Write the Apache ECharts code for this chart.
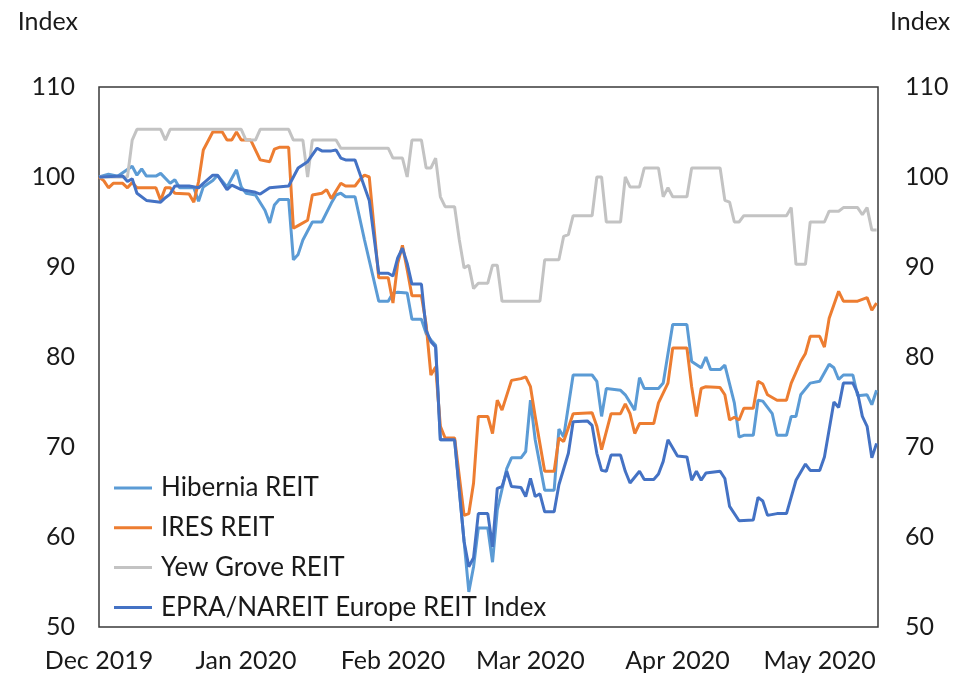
<!DOCTYPE html>
<html>
<head>
<meta charset="utf-8">
<script src="https://cdn.jsdelivr.net/npm/echarts@6/dist/echarts.min.js"></script>
<style>
html, body { margin: 0; padding: 0; background: #ffffff; }
#chart { width: 963px; height: 674px; }
</style>
</head>
<body>
<div id="chart"></div>
<script>
// ---- data (days counted from 1 Dec 2019) ----
const seriesNames = ['Hibernia REIT', 'IRES REIT', 'Yew Grove REIT', 'EPRA/NAREIT Europe REIT Index'];
const monthNames = ['Jan','Feb','Mar','Apr','May','Jun','Jul','Aug','Sep','Oct','Nov','Dec'];
const yTicks = [50, 60, 70, 80, 90, 100, 110];

const hiberniaDays = [0,2,4,7,8,9,10,12,13,15, 16,17,20,21,22,24,25,27,29,30, 31,33,35,36,37,38,40,41,42,43, 45,47,49,50,51,52,54,56,59,61, 62,63,65,66,68,69,70,71,72,75, 78,79,80,82,83,84,86,87,89,90, 91,92,94,96,97,98,100,104,105,106, 107,110,111,113,114,115,118,119,121,124, 125,127,128,129,131,132,134,135,136,138, 139,140,142,143,145,146,147,148,150,152, 154,155,156,157,159,160,162,163,164];
const hiberniaValues = [100,100.3,100.1,101.2,100.2,100.9,100.1,100.1,100.4,99.3, 99.7,98.8,98.8,97.3,98.9,99.6,100.2,98.9,100.8,98.9, 98.2,98,96.3,94.9,96.9,97.5,97.5,90.8,91.4,93, 95,95,97.1,98,98.2,97.8,97.8,93,86.2,86.2, 87.1,87.2,87.1,84.2,84.2,82.6,81.9,81.3,70.8,70.8, 53.9,56.7,61,61,57.2,63,67.6,68.8,68.8,69.5, 75.2,70.8,65.2,65.2,72,71.1,78,78,77.3,73.4, 76.5,76.3,75.8,74.1,77.7,76.5,76.5,77.1,83.6,83.6, 79.5,78.8,80,78.6,78.6,79.1,74.9,71.1,71.3,71.3, 75.2,75.1,73.7,71.3,71.3,73.4,73.4,75.8,77.1,77.3, 79.2,78.8,77.5,78,78,75.7,75.8,74.7,76.3];

const iresDays = [0,1,2,3,5,6,7,8,12,13, 14,15,16,19,20,21,22,24,26,27, 28,29,30,32,34,36,37,38,40,41, 42,44,45,47,48,49,51,52,54,55, 56,57,59,61,62,63,64,65,66,68, 69,70,71,72,73,75,77,78,79,80, 82,83,84,85,87,89,90,91,92,94, 96,97,98,100,104,105,106,108,110,111, 112,113,114,117,118,120,121,124,125,126, 127,128,131,132,133,134,135,136,138,139, 140,141,143,145,146,148,149,150,152,153, 154,156,157,160,162,163,164];
const iresValues = [100,99.6,98.8,99.3,99.3,98.8,99.4,98.8,98.8,97.4, 98.8,98.8,98.2,98.1,97.2,99.5,103,105,105,104.1, 104.1,105,104.1,104.1,101.9,101.7,103.1,103.3,103.3,94.3, 94.6,95.2,98,98.2,98.6,97.6,99.3,99,99,99.7, 100.2,100,88.8,88.8,86,90.4,92.4,89.7,86.8,86.8, 83.6,78,78.9,72.3,71,71,62.4,62.6,66,73.4, 73.4,71.5,75.2,74.1,77.4,77.6,77.8,76.7,73.4,67.3, 67.3,71,70.6,73.7,73.8,72.3,69.7,73.7,73.7,74.8, 73.7,71.5,72.6,72.6,74.9,77.1,81,81,76.7,73.4, 76.5,76.7,76.6,75.8,73,73.3,73,74.3,74.3,77.3, 77,75.8,75.2,75.2,77.1,79.5,80.4,82.3,82.3,81.1, 84.3,87.3,86.2,86.2,86.6,85.2,86];

const yewGroveDays = [0,6,7,8,13,14,15,30,31,33, 34,40,41,43,44,45,50,51,61,62, 64,65,66,68,69,70,71,72,73,75, 76,77,78,79,80,82,83,84,85,93, 94,97,98,99,100,104,105,106,107,110, 111,112,114,115,118,119,120,121,124,125, 131,132,133,134,135,136,145,146,147,149, 150,153,154,156,157,160,161,162,163,164];
const yewGroveValues = [100,100,104.1,105.3,105.3,104.1,105.3,105.3,104.1,104.1, 105.3,105.3,104.1,104.1,100,104.1,104.1,103.2,103.2,102.1, 102.1,100,104.1,104.1,101,101,102.1,97.8,96.7,96.7, 93,89.9,90.2,87.6,88.2,88.2,90.2,90.2,86.2,86.2, 90.8,90.8,93.4,93.6,95.7,95.7,100,100,95,95, 100,98.9,98.9,101,101,97.8,98.8,97.8,97.8,101, 101,97.4,97.2,95,95,95.7,95.7,96.6,90.3,90.3, 95,95,96.2,96.2,96.6,96.6,95.8,96.6,94.1,94.1];

const epraDays = [0,5,6,7,8,10,13,14,15,16, 19,21,22,24,25,27,28,30,31,33, 34,36,40,42,44,46,47,49,50,51, 52,54,56,57,59,61,62,63,64,65, 66,68,69,70,71,72,75,77,78,79, 80,82,83,84,85,86,87,89,90,91, 92,93,94,96,97,99,100,103,104,105, 106,107,108,110,111,112,114,115,117,118, 119,120,122,124,125,126,127,128,131,132, 133,135,138,139,140,141,143,145,147,149, 150,152,153,155,156,157,159,160,161,162, 163,164];
const epraValues = [100,100.1,99.5,99.8,98.2,97.4,97.2,97.7,98.1,99, 99,98.8,99.3,100.2,100.2,98.6,99.1,98.6,98.5,98.3, 98.1,98.8,99,101,101.7,103.2,102.9,102.9,103,102.1, 101.9,101.9,98.9,97.4,89.3,89.3,89,91,92.1,90.4, 88.1,88.1,83,81.7,81.1,70.8,70.8,59.5,56.7,57.7, 62.6,62.6,58.9,65.4,65.6,67.3,65.6,65.5,64.5,66.5, 64.5,64.8,62.8,62.8,65.8,69.3,72.8,72.9,72.4,69.3, 67.4,67.3,69.1,69.1,67.3,66,67.3,66.4,66.4,67, 68.4,70.8,69,68.9,66.3,67.3,66.3,67.1,67.3,66.5, 63.4,61.8,61.9,64.4,64,62.4,62.6,62.6,66.3,68.1, 67.4,67.4,68.9,75,74.4,77.1,77.1,76,73.4,72.3, 68.8,70.4];

// ---- styling ----
const colors = ['#5B9BD5', '#ED7D31', '#C3C3C3', '#4472C4'];
const FONT = "Lato, 'Open Sans', sans-serif";
const FS = 25;
const TEXT = '#1a1a1a';
const DAY = 86400000;
const START = new Date(2019, 11, 1).getTime();

function toPoints(days, vals) {
  return days.map(function (d, i) { return [START + d * DAY, vals[i]]; });
}

const allDays = [hiberniaDays, iresDays, yewGroveDays, epraDays];
const allValues = [hiberniaValues, iresValues, yewGroveValues, epraValues];

const chart = echarts.init(document.getElementById('chart'), null, { renderer: 'canvas' });

const yAxisBase = {
  type: 'value',
  min: yTicks[0],
  max: yTicks[yTicks.length - 1],
  interval: 10,
  splitLine: { show: false },
  axisLine: { show: false },
  axisTick: { show: false },
  name: 'Index',
  nameLocation: 'end',
  nameGap: 65
};

chart.setOption({
  animation: false,
  backgroundColor: '#ffffff',
  textStyle: { fontFamily: FONT },
  grid: {
    left: 99, right: 85, top: 87, bottom: 47,
    show: true, borderColor: '#3a3a3a', borderWidth: 1.5, backgroundColor: 'transparent'
  },
  legend: {
    orient: 'vertical',
    left: 109,
    top: 468,
    itemWidth: 38,
    itemHeight: 3,
    itemGap: 9.8,
    icon: 'rect',
    data: seriesNames,
    textStyle: { fontFamily: FONT, fontSize: 26, lineHeight: 30, color: TEXT, padding: [0, 0, 0, 4] }
  },
  xAxis: {
    type: 'time',
    min: START,
    max: START + 164.3 * DAY,
    splitNumber: 6,
    minInterval: 28 * DAY,
    maxInterval: 31 * DAY,
    axisLine: { show: false },
    axisTick: { show: false },
    splitLine: { show: false },
    axisLabel: {
      showMinLabel: true,
      showMaxLabel: false,
      hideOverlap: false,
      margin: 21,
      fontFamily: FONT,
      fontSize: FS,
      color: TEXT,
      formatter: function (v) {
        const d = new Date(v);
        return monthNames[d.getMonth()] + ' ' + d.getFullYear();
      }
    }
  },
  yAxis: [
    Object.assign({}, yAxisBase, {
      position: 'left',
      axisLabel: { margin: 24, fontFamily: FONT, fontSize: FS, color: TEXT },
      nameTextStyle: { fontFamily: FONT, fontSize: FS, color: TEXT, align: 'right', verticalAlign: 'middle', padding: [0, 21, 0, 0] }
    }),
    Object.assign({}, yAxisBase, {
      position: 'right',
      axisLabel: { margin: 27, fontFamily: FONT, fontSize: FS, color: TEXT },
      nameTextStyle: { fontFamily: FONT, fontSize: FS, color: TEXT, align: 'left', verticalAlign: 'middle', padding: [0, 0, 0, 12] }
    })
  ],
  series: seriesNames.map(function (name, i) {
    return {
      name: name,
      type: 'line',
      yAxisIndex: 0,
      data: toPoints(allDays[i], allValues[i]),
      showSymbol: false,
      symbol: 'none',
      lineStyle: { width: 3, color: colors[i] },
      itemStyle: { color: colors[i] },
      emphasis: { disabled: true }
    };
  })
});
</script>
</body>
</html>
